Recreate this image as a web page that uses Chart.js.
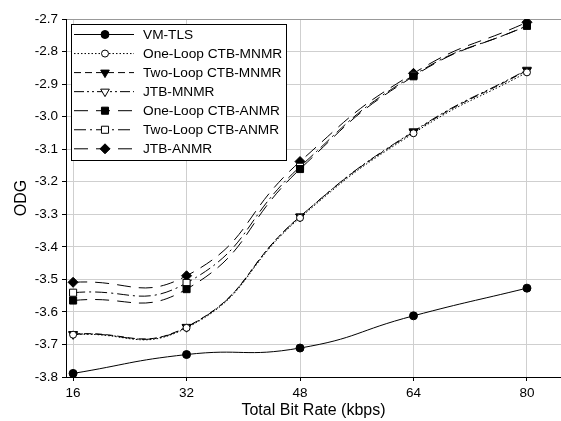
<!DOCTYPE html>
<html>
<head>
<meta charset="utf-8">
<script src="https://cdn.jsdelivr.net/npm/chart.js@4/dist/chart.umd.min.js"></script>
<style>
html,body{margin:0;padding:0;background:#fff;overflow:hidden;}
#wrap{width:561px;height:421px;position:relative;overflow:hidden;}
canvas{display:block;}
</style>
</head>
<body>
<div id="wrap"><canvas id="c" width="567" height="421"></canvas></div>
<script>
// Data
const bitRates = [16, 32, 48, 64, 80];
const xTickLabels = [16, 32, 48, 64, 80];
const yTickLabels = ['-3.8','-3.7','-3.6','-3.5','-3.4','-3.3','-3.2','-3.1','-3.0','-2.9','-2.8','-2.7'];
const seriesNames = ['VM-TLS','One-Loop CTB-MNMR','Two-Loop CTB-MNMR','JTB-MNMR','One-Loop CTB-ANMR','Two-Loop CTB-ANMR','JTB-ANMR'];
const vmTls        = [-3.789, -3.731, -3.711, -3.612, -3.527];
const oneLoopMnmr  = [-3.670, -3.649, -3.311, -3.051, -2.864];
const twoLoopMnmr  = [-3.668, -3.646, -3.307, -3.047, -2.858];
const jtbMnmr      = [-3.669, -3.647, -3.307, -3.045, -2.856];
const oneLoopAnmr  = [-3.565, -3.530, -3.161, -2.876, -2.720];
const twoLoopAnmr  = [-3.541, -3.511, -3.154, -2.873, -2.721];
const jtbAnmr      = [-3.509, -3.489, -3.138, -2.867, -2.710];

const seriesValues = [vmTls, oneLoopMnmr, twoLoopMnmr, jtbMnmr, oneLoopAnmr, twoLoopAnmr, jtbAnmr];

const styles = [
  {pointStyle:'circle', radius:4, fill:'#000', dash:[], rotation:0},
  {pointStyle:'circle', radius:3.5, fill:'#fff', dash:[1.5,2], rotation:0},
  {pointStyle:'triangle', radius:5, fill:'#000', dash:[7,4], rotation:180},
  {pointStyle:'triangle', radius:5, fill:'#fff', dash:[10,3,2,3,2,3], rotation:180},
  {pointStyle:'rect', radius:5, fill:'#000', dash:[14,8], rotation:0},
  {pointStyle:'rect', radius:5, fill:'#fff', dash:[12,4,2,4], rotation:0},
  {pointStyle:'rectRot', radius:5, fill:'#000', dash:[14,8], rotation:0}
];

const datasets = seriesNames.map((name, i) => ({
  label: name,
  data: bitRates.map((x, j) => ({x: x, y: seriesValues[i][j]})),
  borderColor: '#000',
  borderWidth: 1,
  borderDash: styles[i].dash,
  backgroundColor: styles[i].fill,
  pointStyle: styles[i].pointStyle,
  pointRadius: styles[i].radius,
  pointHoverRadius: styles[i].radius,
  pointRotation: styles[i].rotation,
  pointBackgroundColor: styles[i].fill,
  pointBorderColor: '#000',
  pointBorderWidth: 1,
  tension: 0.5,
  fill: false
}));

const FONT = 'Liberation Sans, Arial, sans-serif';

const legendPlugin = {
  id: 'boxLegend',
  afterDatasetsDraw(chart) {
    const ctx = chart.ctx;
    const bx = 71.5, by = 24.5, bw = 215, bh = 136;
    ctx.save();
    ctx.fillStyle = '#fff';
    ctx.fillRect(bx, by, bw, bh);
    ctx.strokeStyle = '#000';
    ctx.lineWidth = 1;
    ctx.setLineDash([]);
    ctx.strokeRect(bx, by, bw, bh);
    const rowH = 19.05;
    chart.data.datasets.forEach((ds, i) => {
      const y = 34 + i * rowH;
      ctx.save();
      ctx.beginPath();
      ctx.strokeStyle = '#000';
      ctx.lineWidth = 1;
      ctx.setLineDash(ds.borderDash || []);
      ctx.moveTo(74, y + 0.5);
      ctx.lineTo(134, y + 0.5);
      ctx.stroke();
      ctx.setLineDash([]);
      ctx.fillStyle = ds.pointBackgroundColor;
      ctx.strokeStyle = '#000';
      if (Chart.helpers && Chart.helpers.drawPoint) {
        Chart.helpers.drawPoint(ctx, {pointStyle: ds.pointStyle, radius: ds.pointRadius, rotation: ds.pointRotation, borderWidth: 1}, 105, y + 0.5);
      }
      ctx.restore();
      ctx.fillStyle = '#000';
      ctx.font = '13.7px ' + FONT;
      ctx.textBaseline = 'middle';
      ctx.textAlign = 'left';
      ctx.fillText(ds.label, 143, y + 1);
    });
    ctx.restore();
  }
};

new Chart(document.getElementById('c'), {
  type: 'line',
  data: { datasets: datasets },
  plugins: [legendPlugin],
  options: {
    responsive: false,
    animation: false,
    events: [],
    layout: { padding: { top: 19, right: 0, left: 0, bottom: 0 } },
    plugins: { legend: { display: false }, tooltip: { enabled: false } },
    scales: {
      x: {
        type: 'linear',
        min: 15,
        max: 84.8,
        afterBuildTicks: s => { s.ticks = xTickLabels.map(v => ({value: v})); },
        afterFit: s => { s.height = 44; },
        ticks: { color: '#000', font: { family: FONT, size: 13.5 }, padding: 4, maxRotation: 0, autoSkip: false,
                 callback: v => String(v) },
        grid: { color: '#cfcfcf', tickColor: '#000', tickLength: 4, lineWidth: 1 },
        border: { color: '#000', width: 1 },
        title: { display: true, text: 'Total Bit Rate (kbps)', color: '#000', font: { family: FONT, size: 16 }, padding: { top: 0, bottom: 1 } }
      },
      y: {
        type: 'linear',
        min: -3.8,
        max: -2.7,
        afterBuildTicks: s => { s.ticks = yTickLabels.map(v => ({value: parseFloat(v)})); },
        afterFit: s => { s.width = 66; },
        ticks: { color: '#000', font: { family: FONT, size: 13.5 }, padding: 4, autoSkip: false,
                 callback: v => v.toFixed(1) },
        grid: { color: c => (c.tick && Math.abs(c.tick.value + 2.7) < 1e-6) ? '#999' : '#cfcfcf', tickColor: '#000', tickLength: 4, lineWidth: 1 },
        border: { color: '#000', width: 1 },
        title: { display: true, text: 'ODG', color: '#000', font: { family: FONT, size: 16 }, padding: { top: 12, bottom: 0 } }
      }
    }
  }
});
</script>
</body>
</html>
